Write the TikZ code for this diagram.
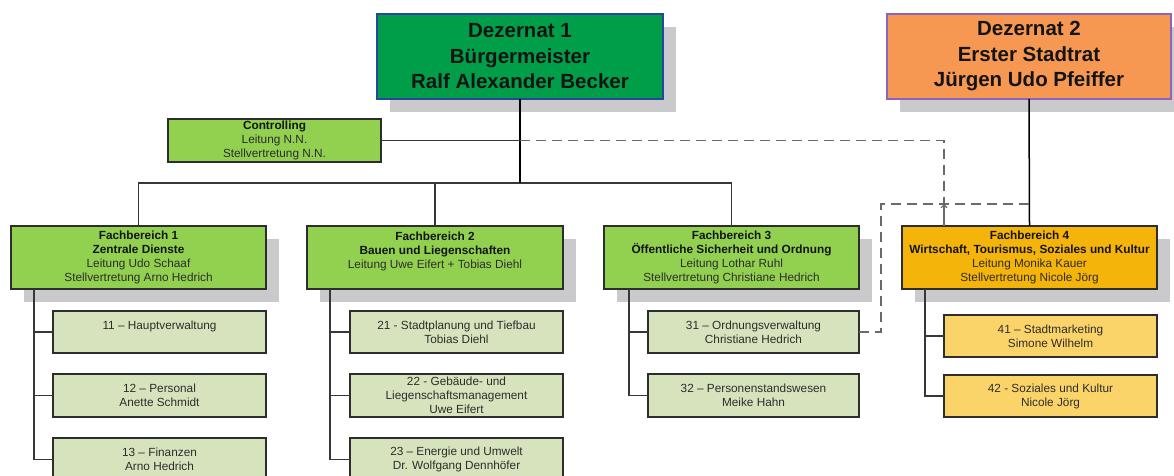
\documentclass[tikz,border=0pt]{standalone}
\usepackage{fontspec}
\setmainfont{Liberation Sans}
\usetikzlibrary{shadows,arrows.meta}
\definecolor{dezAfill}{RGB}{0,158,72}
\definecolor{dezAline}{RGB}{40,70,160}
\definecolor{dezBfill}{RGB}{247,152,82}
\definecolor{dezBline}{RGB}{140,100,190}
\definecolor{fbgreen}{RGB}{146,208,80}
\definecolor{fbgold}{RGB}{245,180,10}
\definecolor{subgreen}{RGB}{215,227,188}
\definecolor{subyellow}{RGB}{251,212,105}
\definecolor{shadowc}{RGB}{202,202,204}
\definecolor{boxline}{RGB}{45,45,45}
\definecolor{connc}{RGB}{55,55,55}
\definecolor{dashc}{RGB}{105,105,105}
\definecolor{txt}{RGB}{20,20,20}
\definecolor{txtreg}{RGB}{45,45,45}
\tikzset{
  shadowed/.style={drop shadow={shadow xshift=13pt, shadow yshift=-13pt, fill=shadowc, opacity=1, draw=none}},
  dezbox/.style={draw, line width=1.5pt, rectangle, inner sep=0pt, outer sep=0pt,
    minimum height=85pt, align=center, text=txt,
    font=\bfseries\fontsize{20.5}{25.5}\selectfont, shadowed},
  ctrlbox/.style={draw=boxline, line width=1.2pt, fill=fbgreen, rectangle, inner sep=0pt, outer sep=0pt,
    minimum width=213pt, minimum height=43pt, align=center, text=txtreg,
    font=\fontsize{11.8}{14}\selectfont},
  fbbox/.style={draw=boxline, line width=1.2pt, fill=fbgreen, rectangle, inner sep=0pt, outer sep=0pt,
    minimum width=255pt, minimum height=63pt, align=center, text=txtreg,
    font=\fontsize{11.8}{14}\selectfont, shadowed},
  subbox/.style={draw=boxline, line width=1.1pt, fill=subgreen, rectangle, inner sep=0pt, outer sep=0pt,
    minimum width=213pt, minimum height=43pt, align=center, text=txtreg,
    font=\fontsize{11.8}{14}\selectfont},
  conn/.style={draw=connc, line width=1.2pt},
  dashline/.style={draw=dashc, line width=1.8pt, dash pattern=on 10pt off 6pt},
}
\begin{document}
\begin{tikzpicture}[x=1pt,y=-1pt]
\useasboundingbox (0,0) rectangle (1174,476);
\clip (0,0) rectangle (1174,476);
\fill[white] (0,0) rectangle (1174,476);

% Dezernate
\node[dezbox, fill=dezAfill, draw=dezAline, minimum width=286pt] (dez1) at (520,56.5)
  {Dezernat 1\\Bürgermeister\\Ralf Alexander Becker};
\node[dezbox, fill=dezBfill, draw=dezBline, minimum width=284pt] (dez2) at (1029,56.5)
  {Dezernat 2\\Erster Stadtrat\\Jürgen Udo Pfeiffer};

% Controlling
\node[ctrlbox] (ctrl) at (274.5,140.5)
  {\textbf{\color{txt}Controlling}\\Leitung N.N.\\Stellvertretung N.N.};

% Fachbereiche
\node[fbbox] (fb1) at (138.5,257.5)
  {\textbf{\color{txt}Fachbereich 1}\\\textbf{\color{txt}Zentrale Dienste}\\Leitung Udo Schaaf\\Stellvertretung Arno Hedrich};
\node[fbbox, minimum width=256pt] (fb2) at (435,257.5)
  {\textbf{\color{txt}Fachbereich 2}\\\textbf{\color{txt}Bauen und Liegenschaften}\\Leitung Uwe Eifert + Tobias Diehl\\\mbox{}};
\node[fbbox] (fb3) at (731.5,257.5)
  {\textbf{\color{txt}Fachbereich 3}\\\textbf{\color{txt}Öffentliche Sicherheit und Ordnung}\\Leitung Lothar Ruhl\\Stellvertretung Christiane Hedrich};
\node[fbbox, fill=fbgold] (fb4) at (1029.5,257.5)
  {\textbf{\color{txt}Fachbereich 4}\\\textbf{\color{txt}Wirtschaft, Tourismus, Soziales und Kultur}\\Leitung Monika Kauer\\Stellvertretung Nicole Jörg};

% Sub units FB1
\node[subbox, minimum height=42pt] (s11) at (159.5,332) {11 – Hauptverwaltung\\\mbox{}};
\node[subbox] (s12) at (159.5,395.5) {12 – Personal\\Anette Schmidt};
\node[subbox] (s13) at (159.5,459.5) {13 – Finanzen\\Arno Hedrich};
% Sub units FB2
\node[subbox, minimum height=42pt] (s21) at (456.5,332) {21 - Stadtplanung und Tiefbau\\Tobias Diehl};
\node[subbox] (s22) at (456.5,395.5) {22 - Gebäude- und\\Liegenschaftsmanagement\\Uwe Eifert};
\node[subbox] (s23) at (456.5,459.5) {23 – Energie und Umwelt\\Dr. Wolfgang Dennhöfer};
% Sub units FB3
\node[subbox, minimum width=211pt, minimum height=42pt] (s31) at (753.5,332) {31 – Ordnungsverwaltung\\Christiane Hedrich};
\node[subbox, minimum width=211pt] (s32) at (753.5,395.5) {32 – Personenstandswesen\\Meike Hahn};
% Sub units FB4
\node[subbox, fill=subyellow, minimum height=42pt] (s41) at (1050.5,336) {41 – Stadtmarketing\\Simone Wilhelm};
\node[subbox, fill=subyellow, minimum height=42pt] (s42) at (1050.5,396) {42 - Soziales und Kultur\\Nicole Jörg};

% helper coordinates
\coordinate (bus) at (520,183);
\coordinate (v1) at (34,300);
\coordinate (v2) at (330,300);
\coordinate (v3) at (629,300);
\coordinate (v4) at (925,300);
\coordinate (j1) at (944,204);
\coordinate (j2) at (881,204);

% main tree
\draw[conn] (fb1.north) |- (bus) -| (fb3.north);
\draw[conn] (fb2.north) -- (fb2.north |- bus);
\draw[draw=black, line width=2.4pt] (dez1.south) -- (bus);
\draw[draw=black, line width=1.5pt] (dez2.south) -- (fb4.north);
\draw[conn] (ctrl.east) -- (ctrl.east -| dez1.south);

% sub unit lines
\draw[conn] (fb1.south -| v1) |- (s13.west);
\draw[conn] (v1 |- s11.west) -- (s11.west);
\draw[conn] (v1 |- s12.west) -- (s12.west);
\draw[conn] (fb2.south -| v2) |- (s23.west);
\draw[conn] (v2 |- s21.west) -- (s21.west);
\draw[conn] (v2 |- s22.west) -- (s22.west);
\draw[conn] (fb3.south -| v3) |- (s32.west);
\draw[conn] (v3 |- s31.west) -- (s31.west);
\draw[conn] (fb4.south -| v4) |- (s42.west);
\draw[conn] (v4 |- s41.west) -- (s41.west);

% dashed relations
\draw[dashline] (ctrl.east -| dez1.south) -| (j1);
\draw[dashline] (s31.east) -| (j2) -- (j2 -| fb4.north);
\draw[draw=dashc, line width=1.1pt, -{Straight Barb[length=3pt,width=6pt]}] (fb4.north -| j1) -- (j1);
\end{tikzpicture}
\end{document}
